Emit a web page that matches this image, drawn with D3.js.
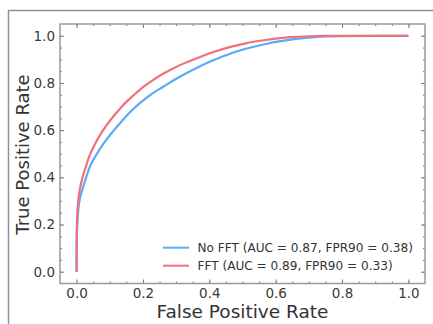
<!DOCTYPE html>
<html>
<head>
<meta charset="utf-8">
<script src="https://cdn.jsdelivr.net/npm/d3@7"></script>
<style>
html,body{margin:0;padding:0;background:#fff;}
svg{display:block;}
</style>
</head>
<body>
<svg id="chart" width="433" height="324"></svg>
<script>
// ---- data ----
const seriesNames = ["No FFT (AUC = 0.87, FPR90 = 0.38)", "FFT (AUC = 0.89, FPR90 = 0.33)"];
const noFftFpr = [0, 0.0003, 0.002, 0.005, 0.01, 0.02, 0.03, 0.04, 0.055, 0.07, 0.09, 0.11, 0.13, 0.15, 0.175, 0.2, 0.23, 0.262, 0.3, 0.363, 0.41, 0.464, 0.51, 0.564, 0.6, 0.645, 0.7, 0.75, 0.8, 0.9, 1.0];
const noFftTpr = [0, 0.12, 0.19, 0.26, 0.31, 0.36, 0.405, 0.445, 0.485, 0.52, 0.56, 0.595, 0.628, 0.66, 0.695, 0.725, 0.757, 0.785, 0.818, 0.865, 0.895, 0.925, 0.945, 0.963, 0.974, 0.984, 0.992, 0.997, 0.999, 1.0, 1.0];
const fftFpr = [0, 0.0003, 0.002, 0.005, 0.01, 0.02, 0.03, 0.04, 0.055, 0.07, 0.09, 0.11, 0.13, 0.15, 0.175, 0.2, 0.23, 0.262, 0.3, 0.363, 0.41, 0.464, 0.51, 0.564, 0.6, 0.645, 0.7, 0.75, 0.8, 0.9, 1.0];
const fftTpr = [0, 0.16, 0.24, 0.30, 0.35, 0.41, 0.455, 0.495, 0.54, 0.578, 0.62, 0.657, 0.69, 0.72, 0.752, 0.782, 0.812, 0.84, 0.868, 0.905, 0.93, 0.953, 0.968, 0.981, 0.988, 0.994, 0.998, 0.9995, 1.0, 1.0, 1.0];
const tickValues = [0, 0.2, 0.4, 0.6, 0.8, 1.0];
const tickLabels = ["0.0", "0.2", "0.4", "0.6", "0.8", "1.0"];
const colors = ["#5aabf7", "#f0717b"];

const svg = d3.select("#chart");

// outer frame (top and left edges)
svg.append("path").attr("d", "M8.5,325 L8.5,10.5 L433,10.5")
  .attr("fill", "none").attr("stroke", "#8b949d").attr("stroke-width", 1.5);

const L = 60, R = 425, T = 24, B = 283.5;
const x = d3.scaleLinear().domain([-0.05, 1.05]).range([L, R]);
const y = d3.scaleLinear().domain([-0.05, 1.05]).range([B, T]);

const axisColor = "#9a9a9a";
const minor = d3.range(0, 1.0001, 0.05);

function tickGroup(axisFn, scale, transform, major) {
  const g = svg.append("g").attr("transform", transform)
    .call(axisFn(scale).tickValues(major ? tickValues : minor)
      .tickSize(major ? 4 : 2).tickSizeOuter(0).tickFormat(""));
  g.select(".domain").remove();
  g.selectAll(".tick line").attr("stroke", "#777").attr("stroke-width", 1);
  return g;
}
// inward ticks on all four sides
[true, false].forEach(m => {
  tickGroup(d3.axisTop, x, `translate(0,${B})`, m);
  tickGroup(d3.axisBottom, x, `translate(0,${T})`, m);
  tickGroup(d3.axisRight, y, `translate(${L},0)`, m);
  tickGroup(d3.axisLeft, y, `translate(${R},0)`, m);
});

// tick labels
const xl = svg.append("g").attr("transform", `translate(0,${B})`)
  .call(d3.axisBottom(x).tickValues(tickValues).tickSize(0).tickPadding(5)
    .tickFormat((d, i) => tickLabels[i]));
xl.select(".domain").remove();
xl.selectAll("text").attr("font-family", "DejaVu Sans").attr("font-size", 13.5).attr("fill", "#3a3a3a");

const yl = svg.append("g").attr("transform", `translate(${L},0)`)
  .call(d3.axisLeft(y).tickValues(tickValues).tickSize(0).tickPadding(5)
    .tickFormat((d, i) => tickLabels[i]));
yl.select(".domain").remove();
yl.selectAll("text").attr("font-family", "DejaVu Sans").attr("font-size", 13.5).attr("fill", "#3a3a3a");

// curves
const series = [
  d3.zip(noFftFpr, noFftTpr),
  d3.zip(fftFpr, fftTpr)
];
const lineGen = d3.line().x(d => x(d[0])).y(d => y(d[1])).curve(d3.curveMonotoneX);
series.forEach((s, i) => {
  svg.append("path").datum(s).attr("d", lineGen)
    .attr("fill", "none").attr("stroke", colors[i]).attr("stroke-width", 2.2)
    .attr("stroke-linejoin", "round");
});

// spines
svg.append("rect").attr("x", L).attr("y", T).attr("width", R - L).attr("height", B - T)
  .attr("fill", "none").attr("stroke", axisColor).attr("stroke-width", 1.5);

// legend
const legY = [247.7, 265.7];
seriesNames.forEach((name, i) => {
  svg.append("line").attr("x1", 163).attr("x2", 189).attr("y1", legY[i]).attr("y2", legY[i])
    .attr("stroke", colors[i]).attr("stroke-width", 2);
  svg.append("text").attr("x", 197.5).attr("y", legY[i] + 4.3)
    .attr("font-family", "DejaVu Sans").attr("font-size", 12.1).attr("fill", "#333")
    .text(name);
});

// axis titles
svg.append("text").attr("x", 242.5).attr("y", 318)
  .attr("text-anchor", "middle").attr("font-family", "DejaVu Sans").attr("font-size", 18.5)
  .attr("fill", "#333").text("False Positive Rate");
svg.append("text").attr("transform", "translate(28.5,154.5) rotate(-90)")
  .attr("text-anchor", "middle").attr("font-family", "DejaVu Sans").attr("font-size", 18)
  .attr("fill", "#333").text("True Positive Rate");
</script>
</body>
</html>
